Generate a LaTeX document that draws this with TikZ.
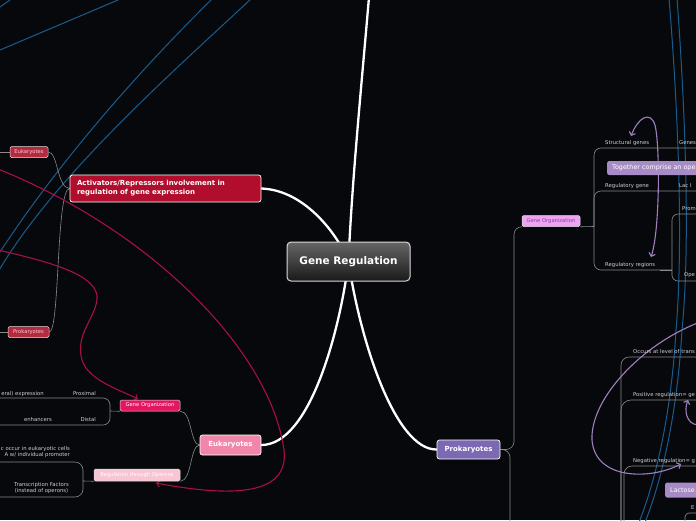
\documentclass[tikz,border=0pt]{standalone}
\usepackage{fontspec}
\setmainfont{DejaVu Sans}
\usetikzlibrary{arrows.meta,backgrounds}
\definecolor{bgc}{HTML}{06080B}
\definecolor{bluec}{HTML}{1B5C8D}
\definecolor{conngray}{HTML}{8A8A8A}
\definecolor{lblgray}{HTML}{D2D2D2}
\definecolor{activred}{HTML}{B10D2D}
\definecolor{smallred}{HTML}{B42B40}
\definecolor{smalltext}{HTML}{F4CCD4}
\definecolor{eukpink}{HTML}{F087AA}
\definecolor{hotpink}{HTML}{E3175F}
\definecolor{lightpink}{HTML}{F8C5D3}
\definecolor{prokpurple}{HTML}{7B69B3}
\definecolor{violetpink}{HTML}{EDA3F2}
\definecolor{violettext}{HTML}{8B3C9B}
\definecolor{lavbox}{HTML}{A78BC6}
\definecolor{lavc}{HTML}{A07FBE}
\definecolor{crimc}{HTML}{A8103F}
\definecolor{boxborder}{HTML}{DDDDDD}
\tikzset{
  conn/.style={draw=conngray, line width=0.6pt},
  mainline/.style={draw=white, line width=2.3pt, line cap=round},
  blueline/.style={draw=bluec, line width=1pt},
  crim/.style={draw=crimc, line width=1.1pt, -{Straight Barb[length=3pt,width=6.5pt]}},
  lav/.style={draw=lavc, line width=1.1pt},
  lbl/.style={font=\fontsize{5.3}{6.2}\selectfont, text=lblgray, inner sep=0pt},
  minibox/.style={draw=boxborder, line width=0.5pt, rounded corners=1.5pt, inner sep=0pt, font=\fontsize{5.2}{6}\selectfont},
  bigbox/.style={draw=white, line width=0.7pt, rounded corners=2.5pt, inner sep=0pt, text=white, font=\bfseries\fontsize{7}{8}\selectfont},
  floatbox/.style={fill=lavbox, rounded corners=2pt, text=white, font=\fontsize{6.4}{8}\selectfont, inner xsep=5pt, inner ysep=0pt, minimum height=14pt},
  centralbox/.style={draw=white!85!black, line width=1pt, rounded corners=4pt, top color=black!60, bottom color=black!90, minimum width=123pt, minimum height=39pt, inner sep=0pt, text=white, font=\bfseries\fontsize{10.5}{12}\selectfont}
}
\begin{document}
\begin{tikzpicture}[x=1pt,y=-1pt]
\useasboundingbox (0,0) rectangle (696,520);
\clip (0,0) rectangle (696,520);

% ---------- nodes ----------
\node[centralbox] (central) at (348.5,261.5) {Gene Regulation};
\node[bigbox, fill=activred, minimum width=191pt, minimum height=27pt, text width=177pt, inner xsep=7pt, align=left, font=\bfseries\fontsize{7}{9}\selectfont] (activ) at (165.5,188.5) {Activators/Repressors involvement in\\regulation of gene expression};
\node[minibox, fill=smallred, text=smalltext, minimum width=38pt, minimum height=11pt] (eukS) at (29,152) {Eukaryotes};
\node[minibox, fill=smallred, text=smalltext, minimum width=41pt, minimum height=11pt] (prokS) at (28.5,332) {Prokaryotes};
\node[bigbox, fill=eukpink, minimum width=61pt, minimum height=20pt] (euk) at (230.5,445) {Eukaryotes};
\node[minibox, fill=hotpink, text=white, minimum width=60pt, minimum height=11pt] (geneL) at (150,405.5) {Gene Organization};
\node[minibox, fill=lightpink, text=white, minimum width=86pt, minimum height=12pt] (regop) at (137,475) {Regulation through Operons};
\node[bigbox, fill=prokpurple, minimum width=63pt, minimum height=19pt] (prok) at (468.5,449.5) {Prokaryotes};
\node[minibox, fill=violetpink, text=violettext, minimum width=58pt, minimum height=11pt] (geneR) at (551,221) {Gene Organization};
\node[floatbox, anchor=west] (tog) at (607,168) {Together comprise an ope};
\node[floatbox, anchor=west, minimum height=15pt] (lac) at (665,490) {Lactose};

% ---------- labels ----------
\node[lbl, anchor=base west] (sg) at (605,144) {Structural genes};
\node[lbl, anchor=base west] (gn) at (679,144) {Genes};
\node[lbl, anchor=base west] (rg) at (605,187) {Regulatory gene};
\node[lbl, anchor=base west] (lacI) at (679,187) {Lac I};
\node[lbl, anchor=base west] (rr) at (605,266) {Regulatory regions};
\node[lbl, anchor=base west] (prom) at (682,210) {Prom};
\node[lbl, anchor=base west] (ope) at (684,276) {Ope};
\node[lbl, anchor=base west] (occ) at (633,353) {Occurs at level of trans};
\node[lbl, anchor=base west] (pos) at (633,396) {Positive regulation= ge};
\node[lbl, anchor=base west] (neg) at (633,462) {Negative regulation= g};
\node[lbl, anchor=base west] (eE) at (691,509) {E};
\node[lbl, anchor=base east] (prox) at (96,395) {Proximal};
\node[lbl, anchor=base east] (expr) at (44,395) {eral) expression};
\node[lbl, anchor=base east] (dist) at (96,421) {Distal};
\node[lbl, anchor=base east] (enh) at (52,421) {enhancers};
\node[lbl, anchor=east, align=right] (occE) at (70,452) {c occur in eukaryotic cells\\A w/ individual promoter};
\node[lbl, align=center] (tf) at (41.5,488) {Transcription Factors\\(instead of operons)};

% ---------- coordinates ----------
\coordinate (eL) at (-2,152);
\coordinate (pL) at (-2,332);
\coordinate (gLt) at (-2,398);
\coordinate (gLb) at (-2,425);
\coordinate (rLt) at (-2,462);
\coordinate (rLb) at (-2,497);
\coordinate (pD) at (510,525);
\coordinate (sgE) at (700,148);
\coordinate (rgE) at (700,191);
\coordinate (rrE) at (672,270);
\coordinate (promE) at (700,214);
\coordinate (opeE) at (700,281);
\coordinate (lb1) at (621,525);
\coordinate (lb2) at (621,525);
\coordinate (lb3) at (624,525);
\coordinate (lb4) at (685,525);
\coordinate (occL) at (700,357);
\coordinate (posL) at (700,400);
\coordinate (negL) at (700,466);
\coordinate (eL2) at (700,513);
\coordinate (topE) at (369,-3);
\coordinate (c1s) at (-2,169);
\coordinate (c1e) at (156,483);
\coordinate (c2s) at (-2,250);
\coordinate (c2e) at (138,399);
\coordinate (l1a) at (631,136);
\coordinate (l1b) at (651,257);
\coordinate (l2s) at (700,322);
\coordinate (l2e) at (681,464);
\coordinate (l3s) at (698,425);
\coordinate (l3e) at (688,400);

\begin{scope}[on background layer]
\clip (0,0) rectangle (696,520);
\fill[bgc] (0,0) rectangle (696,520);

% blue lines
\draw[blueline] (0,50) -- (118,0);
\draw[blueline] (0,7) -- (10,0);
\draw[blueline] (213,-2) .. controls (140,70) and (60,160) .. (-2,255);
\draw[blueline] (252,-2) .. controls (175,70) and (55,175) .. (-2,272);
\draw[blueline] (669,-2) .. controls (679,120) and (683,250) .. (676,330) .. controls (672,400) and (660,470) .. (638,525);
\draw[blueline] (677,-2) .. controls (686,120) and (690,250) .. (682,330) .. controls (678,400) and (666,470) .. (644,525);

% gray connectors
\draw[conn] (eL) -- (eukS.west);
\draw[conn] (pL) -- (prokS.west);
\draw[conn] (eukS.east) .. controls (58,152) and (57,188) .. (activ.west);
\draw[conn] (prokS.east) .. controls (60,332) and (56,188) .. (activ.west);
\draw[conn] (euk.west) .. controls (190,445) and (192,411) .. (geneL.south east);
\draw[conn] (euk.west) .. controls (190,445) and (192,481) .. (regop.south east);
\draw[conn] (geneL.south west) -- (110,411);
\draw[conn, rounded corners=7] (gLt) -| (110,411) |- (gLb);
\draw[conn] (regop.south west) -- (83,481);
\draw[conn, rounded corners=8] (rLt) -| (83,481) |- (rLb);
\draw[conn, rounded corners=8] (prok.east) -| (514,226.5) -- (geneR.south west);
\draw[conn, rounded corners=8] (prok.east) -| (pD);
\draw[conn] (geneR.south east) -- (594,226.5);
\draw[conn, rounded corners=7] (sgE) -| (594,226.5) |- (rrE);
\draw[conn, rounded corners=7] (594,226.5) |- (rgE);
\draw[conn, rounded corners=6] (promE) -| (672,270) |- (opeE);
\draw[conn, line width=1pt] (660,270) -- (rrE);
\draw[conn, rounded corners=8] (lb1) |- (occL);
\draw[conn, rounded corners=10] (lb2) |- (posL);
\draw[conn, rounded corners=8] (lb3) |- (negL);
\draw[conn, rounded corners=4] (lb4) |- (eL2);

% main white branches
\draw[mainline] (central.center) .. controls (352,180) and (362,80) .. (topE);
\draw[mainline] (central.center) .. controls (338,235) and (305,190) .. (activ.east);
\draw[mainline] (central.center) .. controls (340,330) and (310,445) .. (euk.east);
\draw[mainline] (central.center) .. controls (360,340) and (395,450) .. (prok.west);

% crimson arrows
\draw[crim] (c1s) .. controls (150,230) and (270,350) .. (284,450) .. controls (290,500) and (220,495) .. (c1e);
\draw[crim] (c2s) .. controls (50,262) and (100,275) .. (97,300) .. controls (94,320) and (75,335) .. (82,360) .. controls (88,380) and (120,390) .. (c2e);

% lavender arrows
\draw[lav, {Straight Barb[length=3pt,width=6.5pt]}-{Straight Barb[length=3pt,width=6.5pt]}] (l1a) .. controls (638,118) and (650,110) .. (655,125) .. controls (660,145) and (660,230) .. (l1b);
\draw[lav, -{Straight Barb[length=3pt,width=6.5pt]}] (l2s) .. controls (640,345) and (590,400) .. (592,440) .. controls (595,480) and (650,480) .. (l2e);
\draw[lav, -{Straight Barb[length=3pt,width=6.5pt]}] (l3s) .. controls (686,424) and (684,410) .. (l3e);
\end{scope}
\end{tikzpicture}
\end{document}
